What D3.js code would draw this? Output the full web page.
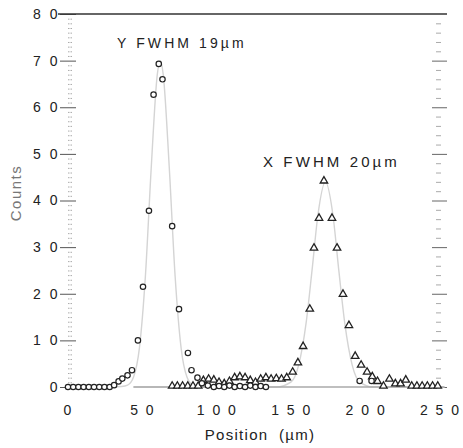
<!DOCTYPE html>
<html>
<head>
<meta charset="utf-8">
<script src="https://cdn.jsdelivr.net/npm/d3@7"></script>
<style>
  body { margin: 0; background: #fff; }
  text { font-family: "Liberation Sans", Arial, sans-serif; fill: #222; }
</style>
</head>
<body>
<svg id="chart" width="463" height="448"></svg>
<script>
// Y scan (circles), position in um / counts
const yScanPos = [0, 3.5, 7, 10.5, 14, 17.5, 21, 24.5, 28, 31, 34, 36.5, 40, 43, 47, 50.4, 54.4, 57.5, 61, 63.5, 70, 74.6, 80.6, 83, 87, 90, 94, 98, 101.5, 105, 108.5, 112, 115.5, 119, 122.5, 126, 129.5, 133, 196, 204];
const yScanVal = [0, 0, 0, 0, 0, 0, 0, 0, 0, 0.4, 1.2, 1.8, 2.5, 3.6, 10, 21.5, 37.8, 62.7, 69.3, 66, 34.5, 16.7, 7.3, 3.6, 2, 0.8, 0.3, 0, 0.2, 0, 0.3, 0, 0.2, 0, 0.3, 0, 0.2, 0, 1.3, 1.3];

// X scan (triangles)
const xScanPos = [70, 73.5, 77, 80.5, 84, 87.5, 91, 94.5, 98, 101.5, 105, 108.5, 112, 115.5, 119, 122.5, 126, 129.5, 133, 136.5, 140, 143.5, 147, 151, 154.5, 158, 162.5, 165.3, 168.7, 172, 177.4, 180.8, 184.8, 188.8, 193, 197, 201, 204.5, 208, 212, 216, 220, 223.5, 227, 231, 234.5, 238, 241.5, 245, 248.5];
const xScanVal = [0, 0, 0, 0, 0, 0, 1.2, 1.5, 1.3, 0.8, 0.5, 1, 1.8, 2, 1.8, 1.2, 0.8, 1.5, 1.8, 1.5, 1.6, 1.5, 1.8, 3, 5, 8.5, 16.5, 29.6, 36, 44, 36, 29.6, 19.7, 13, 6.4, 4.5, 3, 2, 1, 0, 1.5, 0.5, 0.5, 1.3, 0, 0, 0, 0, 0, 0];

// fitted curves
const yFitPos = [0, 30, 36, 40, 44, 48, 52, 56, 60, 62, 64, 68, 72, 76, 80, 84, 90, 100];
const yFitVal = [0, 0, 0.1, 0.4, 2.1, 8.4, 23.7, 47.4, 67, 70, 67, 47.4, 23.7, 8.4, 2.1, 0.4, 0, 0];
const xFitPos = [44, 140, 150, 155, 160, 164, 168, 173, 178, 182, 186, 191, 196, 205, 253];
const xFitVal = [0, 0, 1.1, 4.7, 13.7, 25, 37, 44, 37, 25, 13.7, 4.7, 1.1, 0, 0];

const xTicks = [0, 50, 100, 150, 200, 250];
const yTicks = [0, 10, 20, 30, 40, 50, 60, 70, 80];
const annotations = [
    { text: "Y FWHM 19µm", x: 117, y: 48, size: 14 },
    { text: "X FWHM 20µm", x: 263, y: 167, size: 15 }
];

const svg = d3.select("#chart");
const x = d3.scaleLinear().domain([0, 250]).range([68, 440]);
const y = d3.scaleLinear().domain([0, 80]).range([387, 14]);
const spaced = d => String(d).split("").join(" ");

// left axis: major ticks crossing the axis, labels, then minor ticks
const left = svg.append("g").attr("transform", "translate(76,0)")
    .call(d3.axisLeft(y).tickValues(yTicks).tickSize(16).tickPadding(0).tickFormat(spaced));
left.select(".domain").remove();
left.selectAll("line").attr("stroke", "#555").attr("stroke-width", 1);
left.selectAll("text").attr("font-size", 14).attr("letter-spacing", 2.5).attr("fill", "#222");

const leftMinor = svg.append("g").attr("transform", "translate(72,0)")
    .call(d3.axisLeft(y).tickValues(d3.range(0, 81, 1).filter(v => v % 10)).tickSize(5).tickFormat(""));
leftMinor.select(".domain").remove();
leftMinor.selectAll("line").attr("stroke", "#aaa").attr("stroke-dasharray", "1.5,1");

// right axis
const right = svg.append("g").attr("transform", "translate(432,0)")
    .call(d3.axisRight(y).tickValues(yTicks.slice(0, -1)).tickSize(15).tickFormat(""));
right.select(".domain").remove();
right.selectAll("line").attr("stroke", "#666");
const rightMinor = svg.append("g").attr("transform", "translate(436,0)")
    .call(d3.axisRight(y).tickValues(d3.range(0, 80, 2).filter(v => v % 10)).tickSize(5).tickFormat(""));
rightMinor.select(".domain").remove();
rightMinor.selectAll("line").attr("stroke", "#aaa");

// top frame line
svg.append("line")
    .attr("x1", 58).attr("x2", 447).attr("y1", y(80)).attr("y2", y(80))
    .attr("stroke", "#333").attr("stroke-width", 1.6);

// bottom axis, labels only
const bottom = svg.append("g").attr("transform", "translate(0,387)")
    .call(d3.axisBottom(x).tickValues(xTicks).tickSize(0).tickPadding(18).tickFormat(spaced));
bottom.select(".domain").remove();
bottom.selectAll("text").attr("font-size", 14).attr("letter-spacing", 2).attr("fill", "#222");

svg.append("text")
    .attr("x", 260).attr("y", 440)
    .attr("text-anchor", "middle")
    .attr("font-size", 15).attr("letter-spacing", 1.3).attr("word-spacing", 5)
    .text("Position (µm)");

svg.append("text")
    .attr("transform", "translate(21,193) rotate(-90)")
    .attr("text-anchor", "middle")
    .attr("font-size", 15).attr("letter-spacing", 1.5)
    .style("fill", "#777")
    .text("Counts");

// fit curves, very faint in the scan
const line = d3.line().x(d => x(d[0])).y(d => y(d[1])).curve(d3.curveMonotoneX);
[[yFitPos, yFitVal], [xFitPos, xFitVal]].forEach(([p, v]) => {
    svg.append("path")
        .datum(p.map((d, i) => [d, v[i]]))
        .attr("d", line)
        .attr("fill", "none")
        .attr("stroke", "#d4d4d4")
        .attr("stroke-width", 1.4);
});
// flat tail of the X fit shows up darker along zero
svg.append("line")
    .attr("x1", x(44)).attr("x2", x(253)).attr("y1", y(0)).attr("y2", y(0))
    .attr("stroke", "#aaa").attr("stroke-width", 1.4);

// data points
svg.append("g").selectAll("path")
    .data(xScanPos.map((d, i) => [d, xScanVal[i]]))
    .join("path")
    .attr("transform", d => `translate(${x(d[0])},${y(d[1]) - 1})`)
    .attr("d", d3.symbol(d3.symbolTriangle, 24))
    .attr("fill", "#fff")
    .attr("stroke", "#222")
    .attr("stroke-width", 1.3);

svg.append("g").selectAll("circle")
    .data(yScanPos.map((d, i) => [d, yScanVal[i]]))
    .join("circle")
    .attr("cx", d => x(d[0]))
    .attr("cy", d => y(d[1]))
    .attr("r", 2.7)
    .attr("fill", "#fff")
    .attr("stroke", "#222")
    .attr("stroke-width", 1.2);

svg.selectAll(".note")
    .data(annotations)
    .join("text")
    .attr("class", "note")
    .attr("x", d => d.x).attr("y", d => d.y)
    .attr("font-size", d => d.size)
    .attr("letter-spacing", 3.1)
    .text(d => d.text);
</script>
</body>
</html>
